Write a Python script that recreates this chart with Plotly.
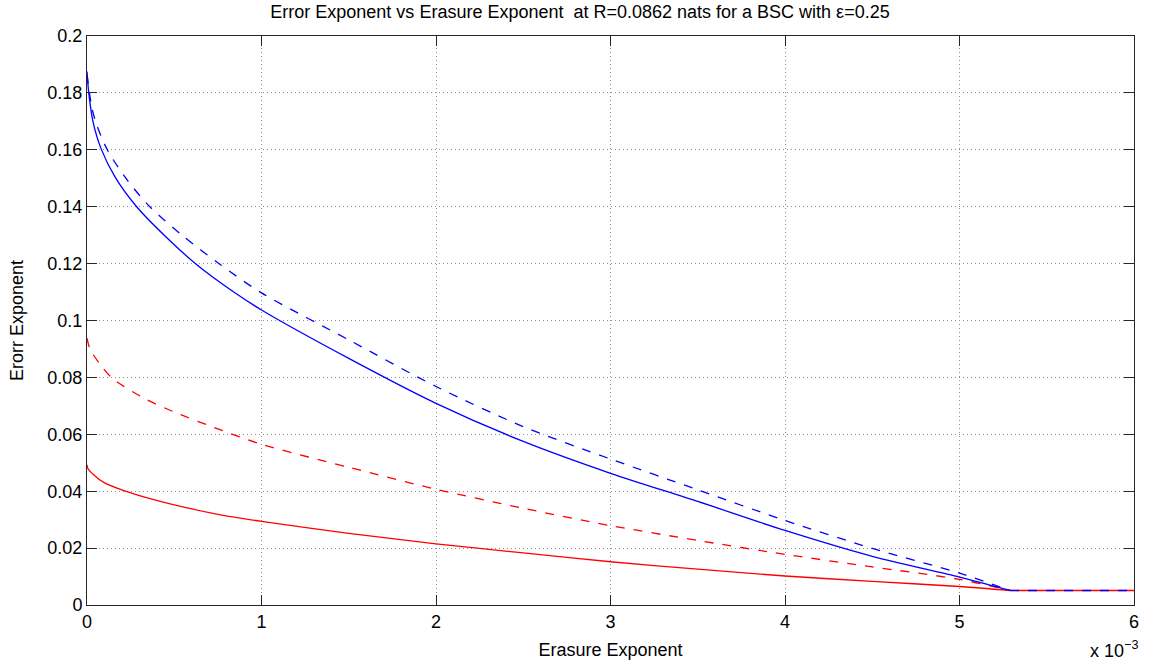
import plotly.graph_objects as go

# Erasure exponent values are in units of 1e-3 (axis shows "x 10^-3")
blue_solid_x = [0, 0.01, 0.034, 0.08, 0.163, 0.287, 0.459, 0.631, 0.841, 1.0, 1.5, 2.0, 2.5, 3.0, 3.5, 4.0, 4.5, 5.0, 5.29]
blue_solid_y = [0.1875, 0.180, 0.170, 0.1605, 0.1502, 0.1398, 0.1290, 0.1195, 0.1100, 0.1037, 0.0867, 0.0709, 0.0575, 0.0463, 0.0364, 0.0262, 0.0171, 0.0098, 0.0051]

blue_dash_x = [0, 0.029, 0.057, 0.119, 0.229, 0.363, 0.554, 0.763, 1.0, 1.5, 2.0, 2.5, 3.0, 3.5, 4.0, 4.5, 5.0, 5.29]
blue_dash_y = [0.1865, 0.1745, 0.1685, 0.1597, 0.1495, 0.1398, 0.1295, 0.1197, 0.1097, 0.0932, 0.0768, 0.0627, 0.0513, 0.0405, 0.0297, 0.0199, 0.0112, 0.0051]

red_dash_x = [0, 0.017, 0.075, 0.149, 0.342, 0.533, 0.724, 1.0, 1.5, 2.0, 2.5, 3.0, 3.5, 4.0, 4.5, 5.0, 5.29]
red_dash_y = [0.0938, 0.0900, 0.0846, 0.0795, 0.0722, 0.0670, 0.0625, 0.0565, 0.0484, 0.0407, 0.0340, 0.0279, 0.0227, 0.0178, 0.0134, 0.0090, 0.0051]

red_solid_x = [0, 0.005, 0.038, 0.096, 0.22, 0.382, 0.573, 0.765, 1.0, 1.5, 2.0, 2.5, 3.0, 3.5, 4.0, 4.5, 5.0, 5.29]
red_solid_y = [0.0493, 0.0480, 0.0458, 0.0431, 0.0400, 0.0370, 0.0341, 0.0317, 0.0294, 0.0252, 0.0215, 0.0183, 0.0152, 0.0126, 0.0102, 0.0083, 0.0065, 0.0051]

# common floor that every curve follows after the meeting point
floor_x = [5.29, 6.0]
floor_y = [0.0051, 0.0051]

x_ticks = [0, 1, 2, 3, 4, 5, 6]
y_ticks = [0, 0.02, 0.04, 0.06, 0.08, 0.1, 0.12, 0.14, 0.16, 0.18, 0.2]
y_ticktext = ["0", "0.02", "0.04", "0.06", "0.08", "0.1", "0.12", "0.14", "0.16", "0.18", "0.2"]

FONT = "Liberation Sans, Arial, sans-serif"
RED = "#ff0000"
BLUE = "#0000ff"

fig = go.Figure()
series = [
    (red_solid_x, red_solid_y, RED, "solid"),
    (red_dash_x, red_dash_y, RED, "dash"),
    (blue_solid_x, blue_solid_y, BLUE, "solid"),
    (blue_dash_x, blue_dash_y, BLUE, "dash"),
]
for xs, ys, col, dash in series:
    fig.add_trace(go.Scatter(x=xs, y=ys, mode="lines",
                             line=dict(color=col, width=1.3, dash=dash, shape="spline", smoothing=0.8),
                             showlegend=False, hoverinfo="skip"))

# flat tail shared by all curves (red underneath, blue dashed on top)
fig.add_trace(go.Scatter(x=floor_x, y=floor_y, mode="lines",
                         line=dict(color=RED, width=1.3), showlegend=False, hoverinfo="skip"))
fig.add_trace(go.Scatter(x=floor_x, y=floor_y, mode="lines",
                         line=dict(color=BLUE, width=1.3, dash="dash"), showlegend=False, hoverinfo="skip"))

axis_common = dict(
    showline=True, linecolor="#262626", linewidth=1, mirror="allticks",
    ticks="inside", ticklen=10, tickcolor="#262626", tickwidth=1,
    showgrid=True, gridcolor="#909090", griddash="1px,3px", gridwidth=1,
    zeroline=False, automargin=False, tickfont=dict(family=FONT, size=18, color="#000"),
)

fig.update_xaxes(range=[0, 6], tickvals=x_ticks, ticktext=[str(t) for t in x_ticks],
                 title=dict(text="Erasure Exponent", font=dict(family=FONT, size=18, color="#000"), standoff=12),
                 **axis_common)
fig.update_yaxes(range=[0, 0.2], tickvals=y_ticks, ticktext=y_ticktext,
                 title=dict(text="Erorr Exponent", font=dict(family=FONT, size=18, color="#000"), standoff=19),
                 **axis_common)

fig.add_annotation(text="x 10<sup>−3</sup>", xref="paper", yref="paper", x=1.006, y=-0.079,
                   xanchor="right", yanchor="middle", showarrow=False,
                   font=dict(family=FONT, size=18, color="#000"))

fig.update_layout(
    width=1149, height=665,
    margin=dict(l=87, r=15, t=36, b=60),
    paper_bgcolor="white", plot_bgcolor="white",
    title=dict(text="Error Exponent vs Erasure Exponent  at R=0.0862 nats for a BSC with ε=0.25",
               x=0.5048, xanchor="center", y=0.982, yanchor="middle",
               font=dict(family=FONT, size=18, color="#000")),
)

fig.write_html("out.html", config={"displayModeBar": False},
               post_script="document.body.style.margin='0px';")
